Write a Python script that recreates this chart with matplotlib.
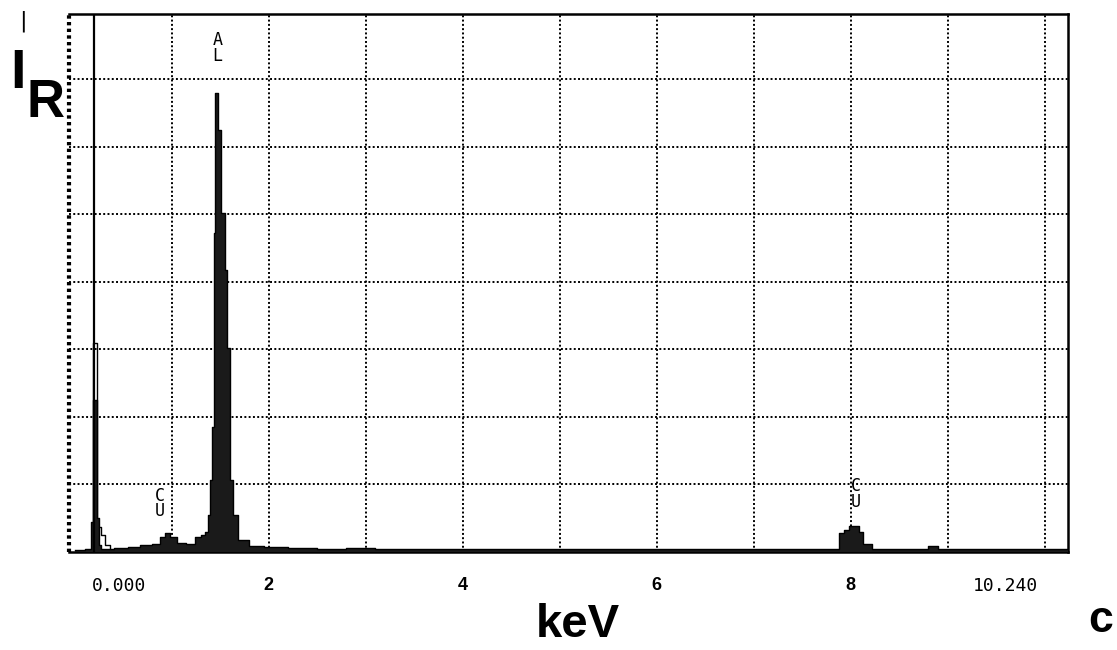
import matplotlib.pyplot as plt

# espectro EDS (keV, contagens relativas) - inicio de cada canal
energia_kev = [0.00, 0.10, 0.17, 0.185, 0.23, 0.25, 0.27, 0.40, 0.55, 0.67,
               0.80, 0.88, 0.93, 0.98, 1.05, 1.15, 1.24, 1.30, 1.34, 1.37,
               1.39, 1.41, 1.44, 1.45, 1.48, 1.51, 1.545, 1.565, 1.596, 1.627,
               1.68, 1.80, 1.95, 2.20, 2.50, 2.80, 3.10, 3.40, 3.70, 4.00,
               4.30, 4.60, 4.90, 5.20, 5.50, 5.80, 6.10, 6.40, 6.70, 7.00,
               7.30, 7.60, 7.88, 7.93, 7.98, 8.08, 8.13, 8.22, 8.50, 8.80,
               8.90, 9.20, 9.50, 9.80, 10.10, 10.24]
contagens = [0.03, 0.04, 0.45, 2.25, 0.50, 0.10, 0.05, 0.06, 0.07, 0.10,
             0.12, 0.22, 0.28, 0.22, 0.13, 0.12, 0.22, 0.25, 0.30, 0.55,
             1.07, 1.85, 4.73, 6.80, 6.25, 5.02, 4.18, 3.02, 1.07, 0.55,
             0.18, 0.09, 0.08, 0.06, 0.05, 0.06, 0.04, 0.05, 0.05, 0.04,
             0.05, 0.04, 0.05, 0.04, 0.05, 0.04, 0.05, 0.04, 0.05, 0.04,
             0.05, 0.04, 0.28, 0.33, 0.39, 0.30, 0.12, 0.05, 0.05, 0.09,
             0.05, 0.04, 0.05, 0.04, 0.04, 0.04]

# segundo espectro (so contorno) no pico de baixa energia
energia_contorno = [0.10, 0.185, 0.227, 0.268, 0.309, 0.36, 0.45]
contagens_contorno = [0.03, 3.10, 0.37, 0.25, 0.10, 0.03, 0.03]

cursor_kev = 0.196

picos_nome = ['A\nL', 'C\nU', 'C\nU']
picos_kev = [1.47, 0.875, 8.05]
picos_y = [7.72, 0.97, 1.11]

ticks_pos = [0.46, 2, 4, 6, 8, 9.59]
ticks_txt = ['0.000', '2', '4', '6', '8', '10.240']

fig = plt.figure(figsize=(11.17, 6.5), dpi=100)
ax = fig.add_axes([69 / 1117, 98 / 650, 999 / 1117, 538 / 650])

ax.step(energia_contorno, contagens_contorno, where='post', color='black', lw=1.0, zorder=3)
ax.fill_between(energia_kev, contagens, step='post', color='#1a1a1a', lw=0, zorder=4)
ax.step(energia_kev, contagens, where='post', color='black', lw=1.0, zorder=4)
ax.axvline(cursor_kev, color='black', lw=1.6, zorder=5)

ax.set_xlim(-0.06, 10.24)
ax.set_ylim(0, 7.97)

# grade pontilhada
for x in range(1, 11):
    ax.axvline(x, color='black', lw=1.4, ls=(0, (1, 1.2)), zorder=2)
for y in range(1, 8):
    ax.axhline(y, color='black', lw=1.4, ls=(0, (1, 1.2)), zorder=2)

for s in ['top', 'right', 'bottom']:
    ax.spines[s].set_linewidth(1.8)
ax.spines['left'].set_visible(False)
ax.axvline(-0.06, color='black', lw=3, ls=(0, (0.8, 0.8)), zorder=6, clip_on=False)

ax.set_yticks([])
ax.set_xticks(ticks_pos)
ax.set_xticklabels(ticks_txt)
ax.tick_params(axis='x', length=0, pad=18)
for lbl in ax.get_xticklabels():
    if '.' in lbl.get_text():
        lbl.set_fontfamily('DejaVu Sans Mono')
        lbl.set_fontsize(13)
    else:
        lbl.set_fontfamily('Liberation Sans')
        lbl.set_fontweight('bold')
        lbl.set_fontsize(13)

for nome, xk, yk in zip(picos_nome, picos_kev, picos_y):
    ax.text(xk, yk, nome, ha='center', va='top', fontsize=12,
            family='DejaVu Sans Mono', linespacing=0.85, zorder=7)

fig.text(578 / 1117, 25 / 650, 'keV', ha='center', va='center',
         fontsize=34, fontweight='bold', family='Liberation Sans')
fig.text(1113 / 1117, 30 / 650, 'c', ha='right', va='center',
         fontsize=32, fontweight='bold', family='Liberation Sans')
fig.text(10 / 1117, (650 - 88) / 650, 'I', ha='left', va='baseline',
         fontsize=40, fontweight='bold', family='Liberation Sans')
fig.text(26 / 1117, (650 - 117) / 650, 'R', ha='left', va='baseline',
         fontsize=38, fontweight='bold', family='Liberation Sans')
fig.text(23 / 1117, (650 - 21) / 650, '|', ha='center', va='center',
         fontsize=16, family='DejaVu Sans')

fig.savefig('out.png', dpi=100)
